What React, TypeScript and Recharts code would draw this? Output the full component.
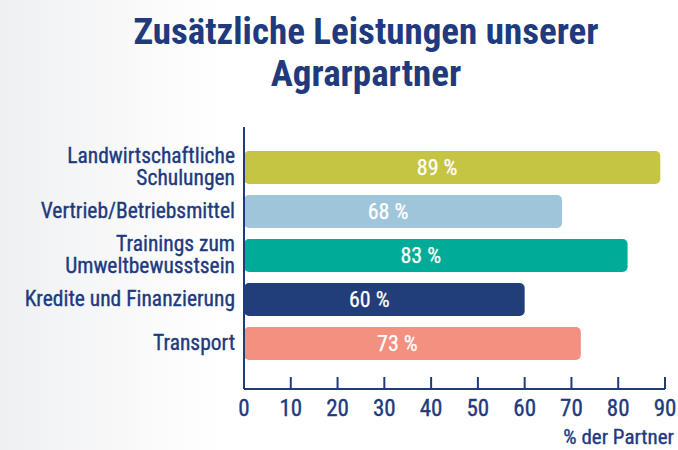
import React from 'react';
import { BarChart, Bar, XAxis, YAxis, Cell, LabelList } from 'recharts';

const titleLines = ['Zusätzliche Leistungen unserer', 'Agrarpartner'];
const categories = [
  'Landwirtschaftliche\nSchulungen',
  'Vertrieb/Betriebsmittel',
  'Trainings zum\nUmweltbewusstsein',
  'Kredite und Finanzierung',
  'Transport',
];
const values = [89, 68, 82, 60, 72];
const valueLabels = ['89 %', '68 %', '83 %', '60 %', '73 %'];
const barColors = ['#C6C543', '#9FC5DA', '#00AC98', '#213E7A', '#F3907F'];
const xTicks = [0, 10, 20, 30, 40, 50, 60, 70, 80, 90];
const xAxisTitle = '% der Partner';

const NAVY = '#213A7E';
const FONT = "'Roboto Condensed', 'Liberation Sans Narrow', 'Arial Narrow', sans-serif";

const data = categories.map((name, i) => ({ name, value: values[i], label: valueLabels[i] }));

const YTick = (props: any) => {
  const { x, y, payload } = props;
  const lines = String(payload.value).split('\n');
  const lh = 22;
  const y0 = y - ((lines.length - 1) * lh) / 2 + 7;
  return (
    <g>
      {lines.map((l, i) => (
        <text
          key={i}
          x={x}
          y={y0 + i * lh}
          textAnchor="end"
          fill={NAVY}
          stroke={NAVY}
          strokeWidth={0.35}
          fontSize={21.5}
          fontFamily={FONT}
        >
          {l}
        </text>
      ))}
    </g>
  );
};

const XTick = (props: any) => {
  const { x, y, payload } = props;
  return (
    <g>
      <line x1={x} x2={x} y1={y - 12} y2={y} stroke={NAVY} strokeWidth={2} />
      <text
        x={x}
        y={y + 27}
        textAnchor="middle"
        fill={NAVY}
        stroke={NAVY}
        strokeWidth={0.35}
        fontSize={23}
        fontFamily={FONT}
      >
        {payload.value}
      </text>
    </g>
  );
};

const ValueLabel = (props: any) => {
  const { x, y, width, height, value } = props;
  return (
    <text
      x={x + width / 2 - 15}
      y={y + height / 2 + 7.5}
      textAnchor="middle"
      fill="#ffffff"
      stroke="#ffffff"
      strokeWidth={0.25}
      fontSize={22}
      fontFamily={FONT}
    >
      {value}
    </text>
  );
};

export default function App() {
  return (
    <div
      style={{
        position: 'absolute',
        left: 0,
        top: 0,
        width: 678,
        height: 450,
        background: 'linear-gradient(90deg, #eff0f2 0px, #ffffff 220px)',
        fontFamily: FONT,
        overflow: 'hidden',
      }}
    >
      <div
        style={{
          position: 'absolute',
          left: 0,
          top: 11,
          width: 732,
          textAlign: 'center',
          color: NAVY,
          fontWeight: 'bold',
          fontSize: 37,
          lineHeight: '42px',
        }}
      >
        {titleLines.map((t, i) => (
          <div key={i}>{t}</div>
        ))}
      </div>
      <BarChart
        width={678}
        height={450}
        data={data}
        layout="vertical"
        margin={{ top: 127, right: 13, bottom: 0, left: 0 }}
        barSize={33}
      >
        <XAxis
          type="number"
          domain={[0, 90]}
          ticks={xTicks}
          interval={0}
          height={61}
          axisLine={{ stroke: NAVY, strokeWidth: 2 }}
          tickLine={false}
          tickSize={0}
          tickMargin={0}
          tick={<XTick />}
        />
        <YAxis
          type="category"
          dataKey="name"
          width={244}
          axisLine={{ stroke: NAVY, strokeWidth: 2 }}
          tickLine={false}
          tickSize={0}
          tickMargin={9}
          padding={{ top: 18, bottom: 24 }}
          tick={<YTick />}
          interval={0}
        />
        <Bar dataKey="value" radius={5} isAnimationActive={false}>
          {data.map((d, i) => (
            <Cell key={i} fill={barColors[i]} />
          ))}
          <LabelList dataKey="label" content={<ValueLabel />} />
        </Bar>
      </BarChart>
      <div
        style={{
          position: 'absolute',
          right: 4,
          top: 425,
          color: NAVY,
          fontSize: 21,
          lineHeight: '24px',
          WebkitTextStroke: '0.35px ' + NAVY,
        }}
      >
        {xAxisTitle}
      </div>
    </div>
  );
}
